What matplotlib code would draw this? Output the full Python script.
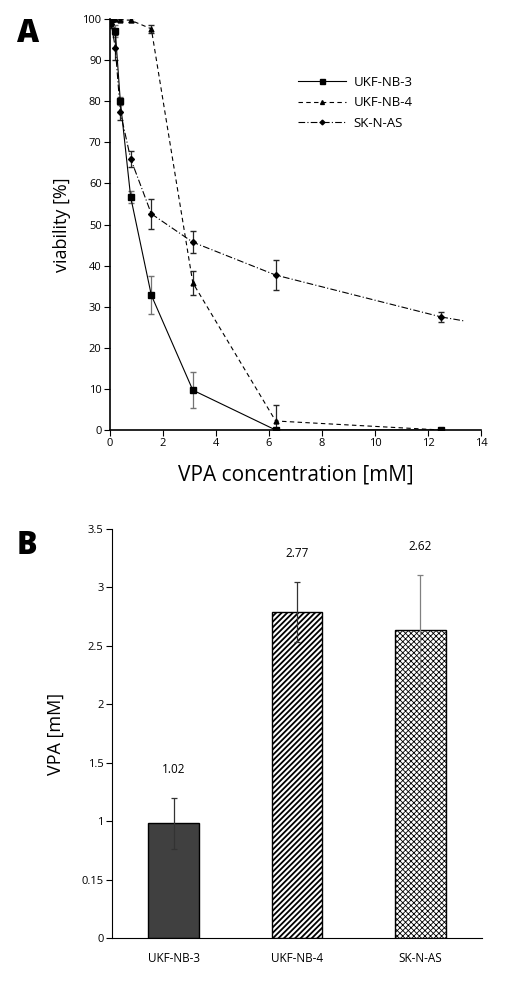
import numpy as np
import matplotlib
matplotlib.use('Agg')
import matplotlib.pyplot as plt
from matplotlib.lines import Line2D

plt.rcParams['font.family'] = ['Open Sans', 'DejaVu Sans']
plt.rcParams['hatch.linewidth'] = 1.1

# panel A - viability vs VPA concentration
nb3_x = [0.05, 0.2, 0.39, 0.78, 1.56, 3.125, 6.25, 12.5]
nb3_y = [100, 97, 80, 56.7, 32.8, 9.7, 0, 0]
nb3_err = [0.5, 1.5, 1, 1.5, 4.6, 4.4, 0, 0]

nb4_x = [0.05, 0.1, 0.2, 0.39, 0.78, 1.56, 3.125, 6.25, 12.5]
nb4_y = [100, 100, 100, 99.8, 99.7, 97.6, 35.8, 2.2, 0]
nb4_err = [0.3, 0.3, 0.3, 0.3, 0.5, 1, 3, 4, 0]

sk_x = [0.05, 0.2, 0.39, 0.78, 1.56, 3.125, 6.25, 12.5]
sk_y = [98.8, 93, 77.4, 66, 52.6, 45.7, 37.7, 27.5]
sk_err = [1, 3, 2, 2, 3.7, 2.7, 3.6, 1.2]
sk_tail_x = [12.5, 13.4]
sk_tail_y = [27.5, 26.5]

# panel B - IC50 bars
lines = ['UKF-NB-3', 'UKF-NB-4', 'SK-N-AS']
ic50 = [0.98, 2.79, 2.64]
ic50_err = [0.22, 0.26, 0.47]
ic50_text = ['1.02', '2.77', '2.62']
yticks_b = [0, 0.5, 1, 1.5, 2, 2.5, 3, 3.5]
yticklabels_b = ['0', '0.15', '1', '1.5', '2', '2.5', '3', '3.5']

dashdot = (0, (6, 2, 1, 2))
styles = [('-', 's', 4.5), ((0, (4, 3)), '^', 3.5), (dashdot, 'D', 3)]

fig = plt.figure(figsize=(5.08, 9.89), dpi=100)

ax1 = fig.add_axes([0.2165, 0.5652, 0.7305, 0.4156])
series = [(nb3_x, nb3_y, nb3_err, '0.45'), (nb4_x, nb4_y, nb4_err, '0.15'),
          (sk_x, sk_y, sk_err, '0.15')]
handles = []
for (xs, ys, es, ec), (ls, mk, ms), name in zip(series, styles, lines):
    ax1.errorbar(xs, ys, yerr=es, color='black', lw=0.8, ls=ls, marker=mk, ms=ms,
                 ecolor=ec, elinewidth=0.9, capsize=2)
    handles.append(Line2D([0, 1, 2], [0, 0, 0], color='black', lw=0.8, ls=ls,
                          marker=mk, ms=ms * 0.8, markevery=[1], label=name))
ax1.plot(sk_tail_x, sk_tail_y, color='black', lw=0.8, ls=dashdot)
ax1.set_xlim(0, 14)
ax1.set_ylim(0, 100)
ax1.set_xticks(range(0, 15, 2))
ax1.set_yticks(range(0, 101, 10))
ax1.spines['top'].set_visible(False)
ax1.spines['right'].set_visible(False)
ax1.spines['left'].set_linewidth(1.2)
ax1.spines['bottom'].set_linewidth(1.2)
ax1.tick_params(labelsize=8, length=4, width=0.8, pad=2)
ax1.set_xlabel('VPA concentration [mM]', fontsize=15, labelpad=11)
ax1.set_ylabel('viability [%]', fontsize=13, labelpad=8)
ax1.legend(handles=handles, loc='upper left', bbox_to_anchor=(0.475, 0.89),
           frameon=False, fontsize=9.5, handlelength=3.6, labelspacing=0.55,
           handletextpad=0.6)
fig.text(0.033, 0.958, 'A', fontsize=22, fontweight='heavy')

ax2 = fig.add_axes([0.2205, 0.0516, 0.7285, 0.4135])
pos = np.arange(len(lines))
colors = ['#404040', 'white', 'white']
hatches = [None, '//////', 'xxxxxx']
hatch_lw = [1.0, 1.3, 0.6]
ecols = ['0.2', '0.2', '0.5']
for i in range(len(lines)):
    b = ax2.bar(pos[i], ic50[i], width=0.41, color=colors[i], edgecolor='black',
                lw=1.0, hatch=hatches[i])
    for p in b.patches:
        if hasattr(p, 'set_hatch_linewidth'):
            p.set_hatch_linewidth(hatch_lw[i])
    ax2.errorbar(pos[i], ic50[i], yerr=ic50_err[i], color=ecols[i], lw=0.9,
                 capsize=2, capthick=0.9)
    ax2.text(pos[i], ic50[i] + ic50_err[i] + 0.24, ic50_text[i], ha='center',
             va='center', fontsize=8.5)
ax2.set_xlim(-0.5, 2.5)
ax2.set_ylim(0, 3.5)
ax2.set_xticks(pos)
ax2.set_xticklabels(lines, fontsize=8.5)
ax2.set_yticks(yticks_b)
ax2.set_yticklabels(yticklabels_b, fontsize=8)
ax2.tick_params(axis='x', length=0, pad=10)
ax2.tick_params(axis='y', length=4, width=0.8, pad=2)
ax2.spines['top'].set_visible(False)
ax2.spines['right'].set_visible(False)
ax2.set_ylabel('VPA [mM]', fontsize=13, labelpad=12)
fig.text(0.033, 0.44, 'B', fontsize=22, fontweight='heavy')

fig.savefig('out.png', dpi=100)
